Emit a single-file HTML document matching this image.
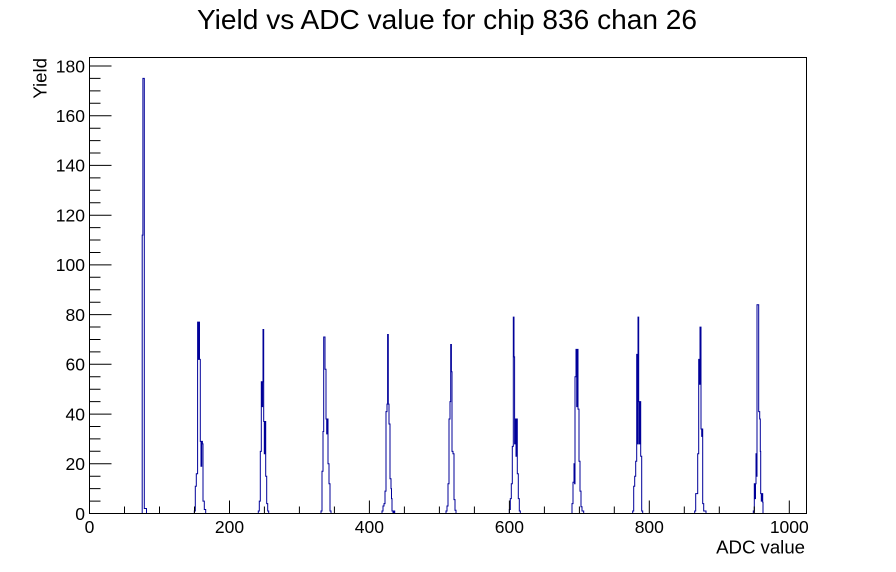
<!DOCTYPE html>
<html><head><meta charset="utf-8"><style>
html,body{margin:0;padding:0;background:#fff;}
svg{display:block;}
text{font-family:"Liberation Sans",Arial,Helvetica,sans-serif;fill:#000;}
</style></head><body>
<svg width="896" height="572" viewBox="0 0 896 572" xmlns="http://www.w3.org/2000/svg">
<rect x="0" y="0" width="896" height="572" fill="#fff"/>
<text x="197" y="29" font-size="28" textLength="500" lengthAdjust="spacingAndGlyphs">Yield vs ADC value for chip 836 chan 26</text>

<path fill="none" stroke="#000099" stroke-width="1" d="M89.5,513.5
H142.2 V235.1 H142.9 V78.4 H144.3 V508.5 H146.5 V513.5
H194.3 V511 H195.3 V486.2 H196.3 V473.7 H197.6 V322.1 H198.3 V359.4 H198.9 V322.1 H199.5 V359.4 H200.3 V441.4 H201 V466.3 H201.7 V441.4 H202.4 V443.9 H203 V501.1 H204.3 V509.5 H205.7 V513.5
H258.3 V511 H259.3 V501.1 H260.3 V451.4 H261.3 V381.7 H262 V406.6 H262.6 V381.7 H263 V329.5 H263.7 V421.5 H264.3 V453.8 H265 V421.5 H265.7 V476.2 H266.7 V503.6 H267.7 V511 H268.7 V513.5
H321 V511 H322 V471.2 H323 V431.5 H323.7 V337 H325 V369.3 H326 V419 H326.7 V433.9 H327.3 V419 H328 V463.8 H329 V483.7 H330 V511 H331 V513.5
H382 V511 H383 V506 H384 V503.6 H385 V491.1 H386 V411.6 H387 V404.1 H387.6 V334.5 H388.3 V404.1 H389 V424 H390 V478.7 H391 V488.6 H391.5 V498.6 H392 V511 H393 V513.5 H394 V511 H394.7 V513.5
H446 V511 H447 V506 H448 V483.7 H449 V419 H450 V401.6 H450.7 V344.5 H451.4 V371.8 H452 V451.4 H453 V453.8 H454 V499.6 H455 V510.3 H456 V513.5
H509.3 V509.5 H510.3 V498.6 H511.3 V483.7 H512.3 V446.4 H513.3 V317.1 H514 V356.9 H514.6 V443.9 H515.3 V419 H516 V456.3 H516.6 V419 H517.3 V473.7 H518.3 V498.6 H519.3 V511 H520.3 V513.5
H572 V503.6 H573 V482.2 H574 V463.8 H574.6 V483.7 H575 V376.8 H576 V349.4 H576.7 V406.6 H577.3 V349.4 H578 V409.1 H579 V461.3 H580 V491.1 H581 V506.8 H582 V511 H583.7 V513.5
H632.7 V511 H633.7 V486.2 H634.7 V476.2 H635.7 V461.3 H636.7 V354.4 H637.5 V443.9 H638 V317.1 H638.7 V401.6 H639.2 V443.9 H639.7 V401.6 H640.7 V456.3 H641.7 V511 H642.7 V513.5
H694.7 V511 H695.7 V493.6 H697.7 V453.8 H698.7 V359.4 H699.3 V384.2 H700 V327.1 H701 V429 H701.7 V436.4 H702.3 V429 H702.7 V503.6 H703.7 V511 H706 V513.5
H753.3 V511 H754.3 V483.7 H755 V498.6 H755.5 V483.7 H756 V453.8 H756.5 V476.2 H757 V304.7 H758.7 V411.6 H759.7 V419 H760.3 V451.4 H760.7 V493.6 H761.3 V501.1 H762 V493.6 H762.7 V502.3 H763 V513.5 H806"/>

<rect x="89.5" y="57.5" width="717" height="456" fill="none" stroke="#000" stroke-width="1"/>

<!-- x ticks -->
<path fill="none" stroke="#000" stroke-width="1" d="
M89.5,513.5V500.5 M229.5,513.5V500.5 M369.4,513.5V500.5 M509.4,513.5V500.5 M649.3,513.5V500.5 M789.3,513.5V500.5
M124.5,513.5V506.5 M159.5,513.5V506.5 M194.5,513.5V506.5
M264.4,513.5V506.5 M299.4,513.5V506.5 M334.4,513.5V506.5
M404.4,513.5V506.5 M439.4,513.5V506.5 M474.4,513.5V506.5
M544.4,513.5V506.5 M579.4,513.5V506.5 M614.3,513.5V506.5
M684.3,513.5V506.5 M719.3,513.5V506.5 M754.3,513.5V506.5"/>

<!-- y ticks -->
<path fill="none" stroke="#000" stroke-width="1" d="
M89.5,513.5H111.5 M89.5,463.8H111.5 M89.5,414.1H111.5 M89.5,364.3H111.5 M89.5,314.6H111.5 M89.5,264.9H111.5 M89.5,215.2H111.5 M89.5,165.4H111.5 M89.5,115.7H111.5 M89.5,66H111.5
M89.5,501.1H100.5 M89.5,488.6H100.5 M89.5,476.2H100.5
M89.5,451.3H100.5 M89.5,438.9H100.5 M89.5,426.5H100.5
M89.5,401.6H100.5 M89.5,389.2H100.5 M89.5,376.8H100.5
M89.5,351.9H100.5 M89.5,339.5H100.5 M89.5,327H100.5
M89.5,302.2H100.5 M89.5,289.7H100.5 M89.5,277.3H100.5
M89.5,252.5H100.5 M89.5,240H100.5 M89.5,227.6H100.5
M89.5,202.7H100.5 M89.5,190.3H100.5 M89.5,177.9H100.5
M89.5,153H100.5 M89.5,140.6H100.5 M89.5,128.2H100.5
M89.5,103.3H100.5 M89.5,90.9H100.5 M89.5,78.4H100.5"/>

<!-- y labels -->
<g font-size="17.5" text-anchor="end">
<text x="85" y="519.8">0</text>
<text x="85" y="470.1">20</text>
<text x="85" y="420.4">40</text>
<text x="85" y="370.6">60</text>
<text x="85" y="320.9">80</text>
<text x="85" y="271.2">100</text>
<text x="85" y="221.5">120</text>
<text x="85" y="171.7">140</text>
<text x="85" y="122">160</text>
<text x="85" y="72.3">180</text>
</g>

<!-- x labels -->
<g font-size="17.5" text-anchor="middle">
<text x="89.5" y="533">0</text>
<text x="229.5" y="533">200</text>
<text x="369.4" y="533">400</text>
<text x="509.4" y="533">600</text>
<text x="649.3" y="533">800</text>
<text x="789.3" y="533">1000</text>
</g>

<text x="805" y="553.5" font-size="18.6" text-anchor="end">ADC value</text>
<text transform="translate(46.5,58) rotate(-90)" font-size="18.6" text-anchor="end">Yield</text>
</svg>
</body></html>
